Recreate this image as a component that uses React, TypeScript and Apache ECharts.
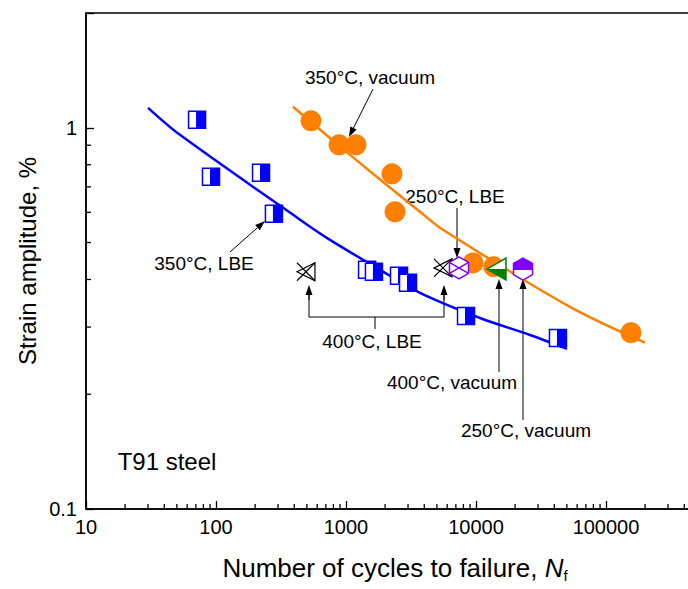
import React, { useEffect, useRef } from "react";
import * as echarts from "echarts";

// ---- measured data: cycles to failure (Nf) and strain amplitude (%) ----
const lbe350Cycles = [71.5, 91.5, 222, 279, 1452, 1640, 2558, 3000, 8380, 42700];
const lbe350Strain = [1.05, 0.744, 0.762, 0.595, 0.424, 0.419, 0.409, 0.392, 0.321, 0.281];

const vac350Cycles = [538, 884, 1194, 2259, 2383, 9480, 13700, 155600];
const vac350Strain = [1.043, 0.902, 0.902, 0.757, 0.602, 0.442, 0.432, 0.29];

const lbe400Cycles = [492, 5570];
const lbe400Strain = [0.419, 0.429];

const lbe250Cycles = [7400];
const lbe250Strain = [0.429];

const vac400Cycles = [14500];
const vac400Strain = [0.426];

const vac250Cycles = [23000];
const vac250Strain = [0.426];

// ---- fitted fatigue curves ----
const fitLbeCycles = [30, 52.8, 443, 753, 1828, 3706, 10740, 26000, 50200];
const fitLbeStrain = [1.128, 0.958, 0.574, 0.508, 0.424, 0.369, 0.317, 0.286, 0.263];

const fitVacCycles = [391, 1074, 3706, 5570, 52800, 199600];
const fitVacStrain = [1.135, 0.849, 0.602, 0.54, 0.339, 0.273];

// ---- axis ticks ----
const xMajorTicks = [10, 100, 1000, 10000, 100000, 1000000];
const xTickLabels = ["10", "100", "1000", "10000", "100000"];
const yTickLabels = ["0.1", "1"];
const minorSteps = [2, 3, 4, 5, 6, 7, 8, 9];

const BLUE = "#0000ff";
const ORANGE = "#ff8000";
const GREEN = "#008000";
const PURPLE = "#8000ff";
const FONT = "'Liberation Sans', Arial, Helvetica, sans-serif";

const zip = (a: number[], b: number[]) => a.map((v, i) => [v, b[i]]);

const xMinorTicks: number[] = [];
xMajorTicks.slice(0, -1).forEach((d) => minorSteps.forEach((s) => xMinorTicks.push(d * s)));
const yMinorTicks = minorSteps.map((s) => 0.1 * s);

type Draw = (x: number, y: number) => any[];

const hexPts = (x: number, y: number, r: number) => {
  const w = 0.866 * r;
  return [
    [x, y - r],
    [x + w, y - r / 2],
    [x + w, y + r / 2],
    [x, y + r],
    [x - w, y + r / 2],
    [x - w, y - r / 2],
  ];
};

const drawHalfSquare: Draw = (x, y) => {
  const h = 8.5;
  return [
    { type: "rect", shape: { x: x - h, y: y - h, width: 2 * h, height: 2 * h }, style: { fill: "#fff", stroke: BLUE, lineWidth: 1.5 } },
    { type: "rect", shape: { x: x - 1, y: y - h, width: h + 1, height: 2 * h }, style: { fill: BLUE } },
  ];
};

const drawCrossTriangle: Draw = (x, y) => {
  const h = 9;
  const st = { stroke: "#000", lineWidth: 1.2, fill: "none" };
  return [
    { type: "line", shape: { x1: x - h, y1: y - h, x2: x + h, y2: y + h }, style: st },
    { type: "line", shape: { x1: x + h, y1: y - h, x2: x - h, y2: y + h }, style: st },
    { type: "polygon", shape: { points: [[x + h, y - h], [x - h, y], [x + h, y + h]] }, style: st },
  ];
};

const drawCrossHex: Draw = (x, y) => {
  const r = 11;
  const w = 0.866 * r;
  const st = { stroke: PURPLE, lineWidth: 1.5, fill: "none" };
  return [
    { type: "polygon", shape: { points: hexPts(x, y, r) }, style: { ...st, fill: "#fff" } },
    { type: "line", shape: { x1: x - w, y1: y - r / 2, x2: x + w, y2: y + r / 2 }, style: st },
    { type: "line", shape: { x1: x + w, y1: y - r / 2, x2: x - w, y2: y + r / 2 }, style: st },
  ];
};

const drawHalfTriangle: Draw = (x, y) => {
  const l = x - 10, rgt = x + 9, t = y - 11, b = y + 11;
  return [
    { type: "polygon", shape: { points: [[l, y], [rgt, t], [rgt, b]] }, style: { fill: "#fff", stroke: GREEN, lineWidth: 1.5 } },
    { type: "polygon", shape: { points: [[l, y], [rgt, y], [rgt, b]] }, style: { fill: GREEN } },
  ];
};

const drawHalfHex: Draw = (x, y) => {
  const r = 11;
  const w = 0.866 * r;
  return [
    { type: "polygon", shape: { points: hexPts(x, y, r) }, style: { fill: "#fff", stroke: PURPLE, lineWidth: 1.5 } },
    { type: "polygon", shape: { points: [[x, y - r], [x + w, y - r / 2], [x + w, y + 1], [x - w, y + 1], [x - w, y - r / 2]] }, style: { fill: PURPLE } },
  ];
};

const markerSeries = (name: string, xs: number[], ys: number[], draw: Draw, z: number) => ({
  type: "custom",
  name,
  z,
  data: zip(xs, ys),
  silent: true,
  renderItem: (_p: any, api: any) => {
    const [px, py] = api.coord([api.value(0), api.value(1)]);
    return { type: "group", children: draw(px, py) };
  },
});

const tickSeries = (values: number[], horizontal: boolean) => ({
  type: "custom",
  data: values.map((v) => (horizontal ? [v, 0.1] : [10, v])),
  silent: true,
  clip: false,
  renderItem: (_p: any, api: any) => {
    const [px, py] = api.coord([api.value(0), api.value(1)]);
    const shape = horizontal
      ? { x1: px, y1: py, x2: px, y2: py - 5 }
      : { x1: px, y1: py, x2: px + 5, y2: py };
    return { type: "line", shape, style: { stroke: "#000", lineWidth: 1.3 } };
  },
});

// arrow with a filled head at (x2, y2)
const arrow = (x1: number, y1: number, x2: number, y2: number, len = 10, half = 3.5) => {
  const dx = x2 - x1, dy = y2 - y1;
  const L = Math.hypot(dx, dy);
  const ux = dx / L, uy = dy / L;
  const bx = x2 - ux * len, by = y2 - uy * len;
  return [
    { type: "line", shape: { x1, y1, x2: bx, y2: by }, style: { stroke: "#000", lineWidth: 1 } },
    { type: "polygon", shape: { points: [[x2, y2], [bx - uy * half, by + ux * half], [bx + uy * half, by - ux * half]] }, style: { fill: "#000" } },
  ];
};

const label = (text: string, x: number, y: number, size = 19) => ({
  type: "text",
  x,
  y,
  style: { text, fontSize: size, fontFamily: FONT, fill: "#000", align: "center", verticalAlign: "middle" },
});

const xLabel = (v: number) => {
  const i = xMajorTicks.findIndex((t) => Math.abs(t - v) / t < 1e-6);
  return i >= 0 && i < xTickLabels.length ? xTickLabels[i] : "";
};

const yLabel = (v: number) =>
  Math.abs(v - 0.1) < 1e-6 ? yTickLabels[0] : Math.abs(v - 1) < 1e-6 ? yTickLabels[1] : "";

export default function App() {
  const ref = useRef<HTMLDivElement>(null);

  useEffect(() => {
    if (!ref.current) return;
    const chart = echarts.init(ref.current, undefined, { renderer: "svg" });

    const graphics: any[] = [
      label("350°C, vacuum", 370, 77),
      ...arrow(373, 89, 349, 137),
      label("350°C, LBE", 204, 263),
      ...arrow(230, 252, 265, 221),
      label("250°C, LBE", 455, 196),
      ...arrow(457, 208, 457, 258),
      label("400°C, LBE", 372, 341),
      { type: "polyline", shape: { points: [[309, 295], [309, 317], [444, 317], [444, 295]] }, style: { stroke: "#000", lineWidth: 1, fill: "none" } },
      ...arrow(309, 300, 309, 285),
      ...arrow(444, 300, 444, 285),
      { type: "line", shape: { x1: 375, y1: 317, x2: 375, y2: 329 }, style: { stroke: "#000", lineWidth: 1 } },
      label("400°C, vacuum", 452, 382),
      ...arrow(499, 372, 499, 279),
      label("250°C, vacuum", 526, 430),
      ...arrow(523, 420, 523, 279),
      label("T91 steel", 167, 461, 24),
      {
        type: "text",
        x: 27,
        y: 261,
        rotation: Math.PI / 2,
        style: { text: "Strain amplitude, %", fontSize: 24, fontFamily: FONT, fill: "#000", align: "center", verticalAlign: "middle" },
      },
      {
        type: "text",
        x: 395,
        y: 568,
        style: {
          text: "{a|Number of cycles to failure, }{n|N}{s|f}",
          align: "center",
          verticalAlign: "middle",
          rich: {
            a: { fontSize: 26, fontFamily: FONT, fill: "#000", lineHeight: 30 },
            n: { fontSize: 26, fontFamily: FONT, fontStyle: "italic", fill: "#000", lineHeight: 30 },
            s: { fontSize: 15, fontFamily: FONT, fill: "#000", lineHeight: 12, verticalAlign: "bottom" },
          },
        },
      },
    ];

    chart.setOption({
      animation: false,
      grid: { left: 86, top: 13, width: 650, height: 496, show: true, borderColor: "#000", borderWidth: 1.5, backgroundColor: "transparent" },
      xAxis: {
        type: "log",
        logBase: 10,
        min: xMajorTicks[0],
        max: xMajorTicks[xMajorTicks.length - 1],
        axisLine: { lineStyle: { color: "#000", width: 1.5 } },
        axisTick: { inside: true, length: 8, lineStyle: { color: "#000", width: 1.3 } },
        splitLine: { show: false },
        axisLabel: { color: "#000", fontSize: 20, fontFamily: FONT, margin: 8, formatter: xLabel },
      },
      yAxis: {
        type: "log",
        logBase: 10,
        min: 0.1,
        max: 2,
        axisLine: { lineStyle: { color: "#000", width: 1.5 } },
        axisTick: { inside: true, length: 8, lineStyle: { color: "#000", width: 1.3 } },
        splitLine: { show: false },
        axisLabel: { color: "#000", fontSize: 20, fontFamily: FONT, margin: 9, formatter: yLabel },
      },
      series: [
        tickSeries(xMinorTicks, true),
        tickSeries(yMinorTicks, false),
        {
          type: "line",
          z: 1,
          data: zip(fitLbeCycles, fitLbeStrain),
          smooth: 0.3,
          symbol: "none",
          lineStyle: { color: BLUE, width: 2.5 },
          silent: true,
        },
        {
          type: "line",
          z: 1,
          data: zip(fitVacCycles, fitVacStrain),
          smooth: 0.3,
          symbol: "none",
          lineStyle: { color: ORANGE, width: 2.5 },
          silent: true,
        },
        markerSeries("350°C, LBE", lbe350Cycles, lbe350Strain, drawHalfSquare, 2),
        {
          type: "scatter",
          name: "350°C, vacuum",
          z: 3,
          data: zip(vac350Cycles, vac350Strain),
          symbol: "circle",
          symbolSize: 21,
          itemStyle: { color: ORANGE, opacity: 1 },
          silent: true,
        },
        markerSeries("400°C, LBE", lbe400Cycles, lbe400Strain, drawCrossTriangle, 4),
        markerSeries("250°C, LBE", lbe250Cycles, lbe250Strain, drawCrossHex, 4),
        markerSeries("400°C, vacuum", vac400Cycles, vac400Strain, drawHalfTriangle, 5),
        markerSeries("250°C, vacuum", vac250Cycles, vac250Strain, drawHalfHex, 5),
      ],
      graphic: graphics,
    });

    return () => chart.dispose();
  }, []);

  return (
    <div style={{ position: "fixed", left: 0, top: 0, width: 688, height: 589, overflow: "hidden", background: "#fff" }}>
      <div ref={ref} style={{ width: 760, height: 589 }} />
    </div>
  );
}
